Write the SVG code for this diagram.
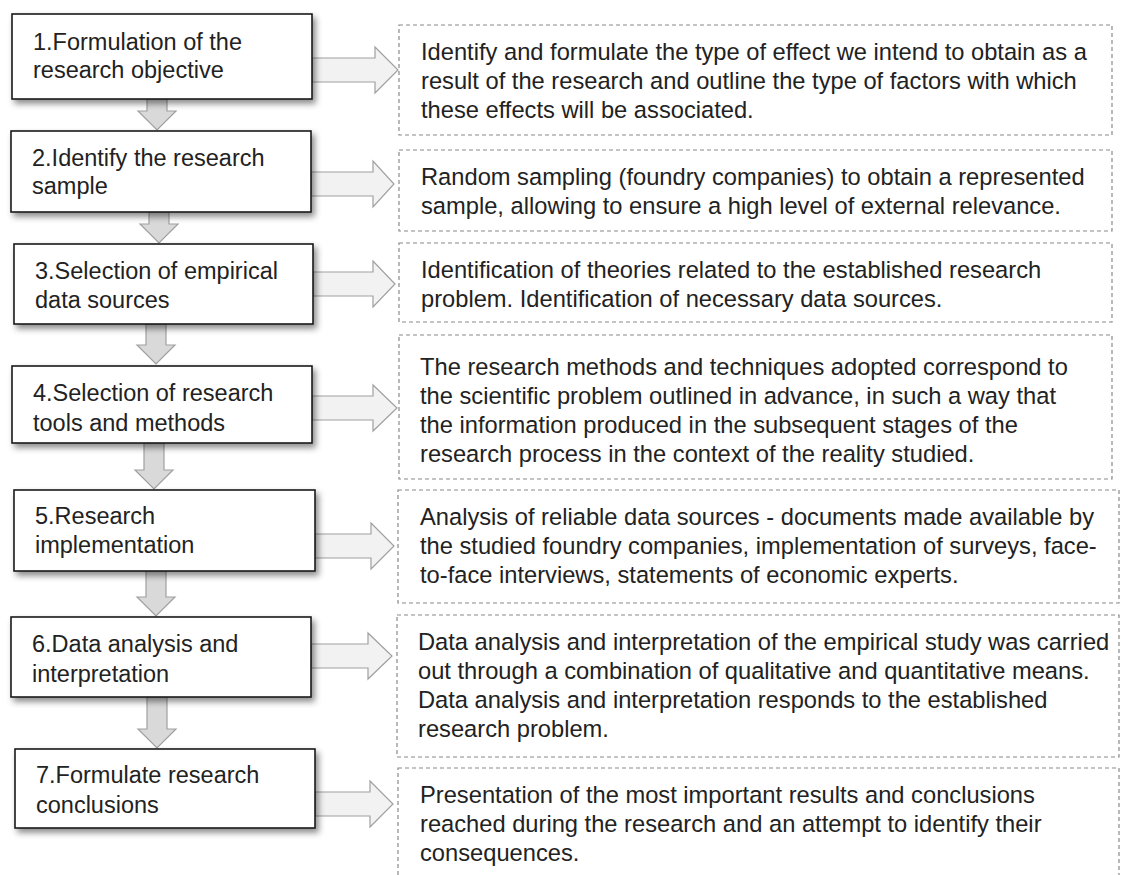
<svg xmlns="http://www.w3.org/2000/svg" width="1123" height="875" viewBox="0 0 1123 875">
<style>
.bg{fill:#ffffff}
.step{fill:#ffffff;stroke:#1a1a1a;stroke-width:1.6;filter:url(#sh)}
.note{fill:#ffffff;stroke:#8a8a8a;stroke-width:1.2;stroke-dasharray:4 3}
.lt{font-family:"Liberation Sans",Arial,sans-serif;font-size:23.5px;fill:#222222}
.rt{font-family:"Liberation Sans",Arial,sans-serif;font-size:23.7px;fill:#222222}
.down{fill:#d9d9d9;stroke:#a0a0a0;stroke-width:1.2}
.right{fill:#f2f2f2;stroke:#a0a0a0;stroke-width:1.2}
</style>
<defs>
<filter id="sh" x="-10%" y="-20%" width="125%" height="150%">
<feDropShadow dx="3" dy="4" stdDeviation="3" flood-color="#000000" flood-opacity="0.45"/>
</filter>
</defs>
<rect class="bg" x="0" y="0" width="1123" height="875"/>

<g id="connectors">
<!-- down arrows -->
<path class="down" d="M147,99 L167,99 L167,111 L176,111 L157,130 L138,111 L147,111 Z"/>
<path class="down" d="M149,212 L169,212 L169,224 L178,224 L159,243 L140,224 L149,224 Z"/>
<path class="down" d="M146,324 L166,324 L166,345 L175,345 L156,364 L137,345 L146,345 Z"/>
<path class="down" d="M144,443 L164,443 L164,470 L173,470 L154,489 L135,470 L144,470 Z"/>
<path class="down" d="M146,571 L166,571 L166,597 L175,597 L156,616 L137,597 L146,597 Z"/>
<path class="down" d="M147,697 L167,697 L167,729 L176,729 L157,748 L138,729 L147,729 Z"/>
<!-- right arrows -->
<path class="right" d="M312,58 L375,58 L375,47 L398,70 L375,93 L375,82 L312,82 Z"/>
<path class="right" d="M311,172 L373,172 L373,161 L394,184 L373,207 L373,196 L311,196 Z"/>
<path class="right" d="M313,272 L373,272 L373,261 L395,284 L373,307 L373,296 L313,296 Z"/>
<path class="right" d="M312,396 L373,396 L373,385 L397,408 L373,431 L373,420 L312,420 Z"/>
<path class="right" d="M315,534 L371,534 L371,523 L394,546 L371,569 L371,558 L315,558 Z"/>
<path class="right" d="M311,644 L368,644 L368,633 L392,656 L368,679 L368,668 L311,668 Z"/>
<path class="right" d="M315,792 L370,792 L370,781 L393,804 L370,827 L370,816 L315,816 Z"/>
</g>

<g id="step1">
<rect class="step" x="12" y="14" width="300" height="85"/>
<text class="lt" x="33" y="50">1.Formulation of the</text>
<text class="lt" x="33" y="78">research objective</text>
</g>
<g id="step2">
<rect class="step" x="11" y="131" width="300" height="81"/>
<text class="lt" x="32" y="166">2.Identify the research</text>
<text class="lt" x="32" y="194">sample</text>
</g>
<g id="step3">
<rect class="step" x="14" y="244" width="299" height="80"/>
<text class="lt" x="35" y="279">3.Selection of empirical</text>
<text class="lt" x="35" y="308">data sources</text>
</g>
<g id="step4">
<rect class="step" x="12" y="366" width="300" height="77"/>
<text class="lt" x="33" y="401">4.Selection of research</text>
<text class="lt" x="33" y="431">tools and methods</text>
</g>
<g id="step5">
<rect class="step" x="14" y="490" width="301" height="81"/>
<text class="lt" x="35" y="524">5.Research</text>
<text class="lt" x="35" y="553">implementation</text>
</g>
<g id="step6">
<rect class="step" x="11" y="617" width="300" height="80"/>
<text class="lt" x="32" y="652">6.Data analysis and</text>
<text class="lt" x="32" y="682">interpretation</text>
</g>
<g id="step7">
<rect class="step" x="15" y="749" width="300" height="79"/>
<text class="lt" x="36" y="783">7.Formulate research</text>
<text class="lt" x="36" y="813">conclusions</text>
</g>

<g id="note1">
<rect class="note" x="399" y="25" width="713" height="110"/>
<text class="rt" x="421" y="60">Identify and formulate the type of effect we intend to obtain as a</text>
<text class="rt" x="421" y="89">result of the research and outline the type of factors with which</text>
<text class="rt" x="421" y="118">these effects will be associated.</text>
</g>
<g id="note2">
<rect class="note" x="399" y="150" width="713" height="81"/>
<text class="rt" x="421" y="185">Random sampling (foundry companies) to obtain a represented</text>
<text class="rt" x="421" y="214">sample, allowing to ensure a high level of external relevance.</text>
</g>
<g id="note3">
<rect class="note" x="399" y="243" width="713" height="79"/>
<text class="rt" x="421" y="278">Identification of theories related to the established research</text>
<text class="rt" x="421" y="307">problem. Identification of necessary data sources.</text>
</g>
<g id="note4">
<rect class="note" x="399" y="335" width="713" height="144"/>
<text class="rt" x="420" y="375">The research methods and techniques adopted correspond to</text>
<text class="rt" x="420" y="404">the scientific problem outlined in advance, in such a way that</text>
<text class="rt" x="420" y="433">the information produced in the subsequent stages of the</text>
<text class="rt" x="420" y="462">research process in the context of the reality studied.</text>
</g>
<g id="note5">
<rect class="note" x="398" y="490" width="721" height="113"/>
<text class="rt" x="420" y="525">Analysis of reliable data sources - documents made available by</text>
<text class="rt" x="420" y="554">the studied foundry companies, implementation of surveys, face-</text>
<text class="rt" x="420" y="583">to-face interviews, statements of economic experts.</text>
</g>
<g id="note6">
<rect class="note" x="397" y="615" width="722" height="142"/>
<text class="rt" x="418" y="650">Data analysis and interpretation of the empirical study was carried</text>
<text class="rt" x="418" y="679">out through a combination of qualitative and quantitative means.</text>
<text class="rt" x="418" y="708">Data analysis and interpretation responds to the established</text>
<text class="rt" x="418" y="737">research problem.</text>
</g>
<g id="note7">
<rect class="note" x="398" y="768" width="721" height="120"/>
<text class="rt" x="420" y="803">Presentation of the most important results and conclusions</text>
<text class="rt" x="420" y="832">reached during the research and an attempt to identify their</text>
<text class="rt" x="420" y="861">consequences.</text>
</g>
</svg>
